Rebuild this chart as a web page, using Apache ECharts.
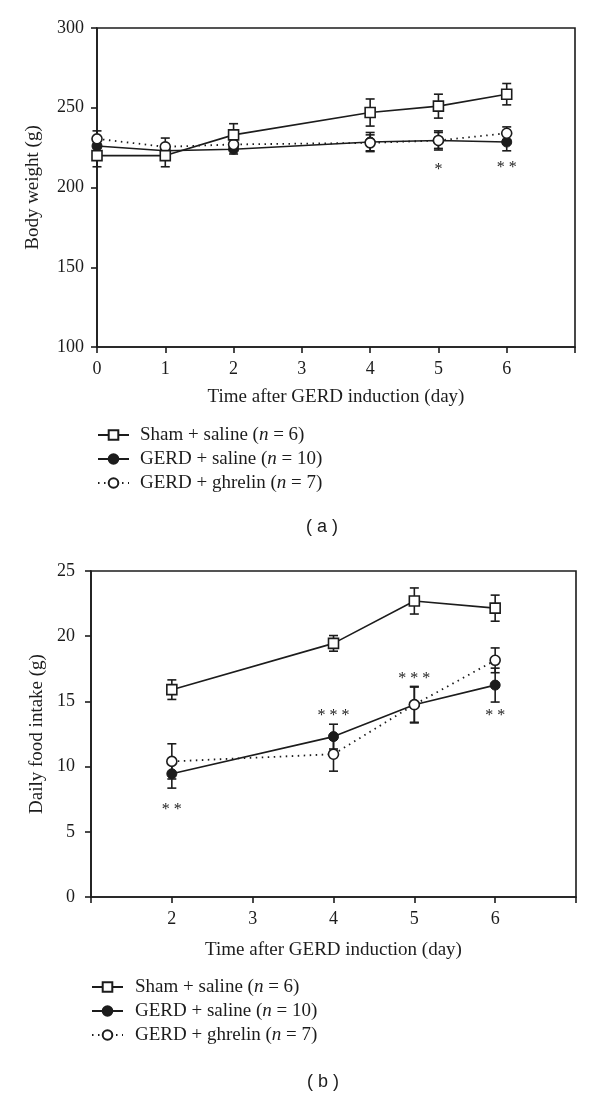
<!DOCTYPE html>
<html><head><meta charset="utf-8">
<script src="https://cdn.jsdelivr.net/npm/echarts@6/dist/echarts.min.js"></script>
<style>html,body{margin:0;padding:0;background:#fff}#c{width:600px;height:1096px}</style>
</head><body><div id="c"></div>
<script>
// ---- data ----
const seriesNames = ['Sham + saline (n = 6)', 'GERD + saline (n = 10)', 'GERD + ghrelin (n = 7)'];

// (a) body weight
const daysA = [0, 1, 2, 4, 5, 6];
const shamA = [220, 220, 233, 247, 251, 258.5];
const shamAErr = [7, 7, 7, 8.5, 7.5, 6.7];
const gerdSalA = [226, 223, 224, 228.5, 229.5, 228.5];
const gerdSalAErr = [5, 4, 3, 6, 6, 5.5];
const gerdGhrA = [230.5, 225.5, 227, 228, 229.5, 234];
const gerdGhrAErr = [5, 5.5, 3, 5, 5, 4];
const annotA = [[5, 213, '*'], [6, 214.5, '* *']];

// (b) daily food intake
const daysB = [2, 4, 5, 6];
const shamB = [15.9, 19.45, 22.7, 22.15];
const shamBErr = [0.75, 0.6, 1.0, 1.0];
const gerdSalB = [9.45, 12.3, 14.75, 16.25];
const gerdSalBErr = [1.1, 0.95, 1.35, 1.3];
const gerdGhrB = [10.4, 10.95, 14.75, 18.15];
const gerdGhrBErr = [1.35, 1.3, 1.4, 0.95];
const annotB = [[2, 6.9, '* *'], [4, 14.15, '* * *'], [5, 17.0, '* * *'], [6, 14.1, '* *']];

const xLabelsA = ['0', '1', '2', '3', '4', '5', '6'];
const xLabelsB = ['2', '3', '4', '5', '6'];

// ---- styling helpers ----
const INK = '#1c1c1c';
const SERIF = 'Liberation Serif';

function pairs(days, vals) { return days.map((d, i) => [d, vals[i]]); }
function errData(days, vals, err) { return days.map((d, i) => [d, vals[i] - err[i], vals[i] + err[i]]); }

function errRender(params, api) {
  const x = api.value(0), lo = api.value(1), hi = api.value(2);
  const pLo = api.coord([x, lo]), pHi = api.coord([x, hi]);
  const cw = 4.5;
  const style = { stroke: INK, lineWidth: 1.6, fill: null };
  return { type: 'group', children: [
    { type: 'line', shape: { x1: pLo[0], y1: pLo[1], x2: pHi[0], y2: pHi[1] }, style },
    { type: 'line', shape: { x1: pLo[0] - cw, y1: pLo[1], x2: pLo[0] + cw, y2: pLo[1] }, style },
    { type: 'line', shape: { x1: pHi[0] - cw, y1: pHi[1], x2: pHi[0] + cw, y2: pHi[1] }, style }
  ] };
}
const annotData = {};
function annotRender(params, api) {
  const p = api.coord([api.value(0), api.value(1)]);
  return { type: 'text', x: p[0], y: p[1] + 3, style: {
    text: annotData[params.seriesIndex][params.dataIndex][2],
    font: '16px "' + SERIF + '"', fill: INK, textAlign: 'center', textVerticalAlign: 'middle' } };
}

function errSeries(gi, days, vals, err) {
  return { type: 'custom', xAxisIndex: gi, yAxisIndex: gi, renderItem: errRender,
    data: errData(days, vals, err), z: 1, silent: true };
}
function lineSeries(gi, idx, days, vals) {
  const base = { name: seriesNames[idx], type: 'line', xAxisIndex: gi, yAxisIndex: gi,
    data: pairs(days, vals), symbolSize: 10, z: 3 + (idx === 0 ? 1 : 0), silent: true,
    lineStyle: { color: INK, width: 1.6 } };
  if (idx === 0) {
    base.symbol = 'rect';
    base.itemStyle = { color: '#fff', borderColor: INK, borderWidth: 1.6 };
  } else if (idx === 1) {
    base.symbol = 'circle';
    base.itemStyle = { color: INK, borderColor: INK, borderWidth: 1 };
  } else {
    base.symbol = 'circle';
    base.itemStyle = { color: '#fff', borderColor: INK, borderWidth: 1.6 };
    base.lineStyle = { color: INK, width: 1.8, type: [1.5, 4.5] };
  }
  return base;
}

function xAxis(gi, min, labels, gap) {
  return { type: 'value', gridIndex: gi, min: min, max: 7, interval: 1,
    name: 'Time after GERD induction (day)', nameLocation: 'middle', nameGap: gap,
    nameTextStyle: { fontFamily: SERIF, fontSize: 19, color: INK },
    axisLine: { show: true, onZero: false, lineStyle: { color: INK, width: 1.6 } },
    axisTick: { show: true, inside: false, length: 6, lineStyle: { color: INK, width: 1.6 } },
    axisLabel: { margin: 13, fontFamily: SERIF, fontSize: 18, color: INK,
      formatter: v => labels.indexOf(String(v)) >= 0 ? String(v) : '' },
    splitLine: { show: false } };
}
function yAxis(gi, min, max, interval, name, gap, margin) {
  return { type: 'value', gridIndex: gi, min: min, max: max, interval: interval,
    name: name, nameLocation: 'middle', nameGap: gap,
    nameTextStyle: { fontFamily: SERIF, fontSize: 19, color: INK },
    axisLine: { show: true, lineStyle: { color: INK, width: 1.6 } },
    axisTick: { show: true, inside: false, length: 6, lineStyle: { color: INK, width: 1.6 } },
    axisLabel: { margin: margin, fontFamily: SERIF, fontSize: 18, color: INK },
    splitLine: { show: false } };
}
function legend(left, top, pad) {
  return { data: seriesNames, orient: 'vertical', left: left, top: top, padding: 0,
    itemWidth: 31, itemHeight: 12, itemGap: 4, selectedMode: false,
    formatter: name => {
      const m = name.match(/^(.*\()n( = .*)$/);
      return '{t|' + m[1] + '}{i|n}{t|' + m[2] + '}';
    },
    textStyle: { fontFamily: SERIF, fontSize: 19, color: INK, lineHeight: 20, padding: [0, 0, 0, pad],
      rich: { t: { fontFamily: SERIF, fontSize: 19, color: INK, lineHeight: 20 },
              i: { fontFamily: SERIF, fontSize: 19, color: INK, fontStyle: 'italic', lineHeight: 20 } } } };
}

const series = [
  errSeries(0, daysA, shamA, shamAErr),
  errSeries(0, daysA, gerdSalA, gerdSalAErr),
  errSeries(0, daysA, gerdGhrA, gerdGhrAErr),
  lineSeries(0, 1, daysA, gerdSalA),
  lineSeries(0, 2, daysA, gerdGhrA),
  lineSeries(0, 0, daysA, shamA),
  errSeries(1, daysB, shamB, shamBErr),
  errSeries(1, daysB, gerdSalB, gerdSalBErr),
  errSeries(1, daysB, gerdGhrB, gerdGhrBErr),
  lineSeries(1, 1, daysB, gerdSalB),
  lineSeries(1, 2, daysB, gerdGhrB),
  lineSeries(1, 0, daysB, shamB)
];
annotData[series.length] = annotA;
series.push({ type: 'custom', xAxisIndex: 0, yAxisIndex: 0, renderItem: annotRender,
  data: annotA.map(a => [a[0], a[1]]), silent: true, z: 5 });
annotData[series.length] = annotB;
series.push({ type: 'custom', xAxisIndex: 1, yAxisIndex: 1, renderItem: annotRender,
  data: annotB.map(a => [a[0], a[1]]), silent: true, z: 5 });

const option = {
  animation: false,
  backgroundColor: '#fff',
  grid: [
    { left: 97, top: 28, width: 478, height: 319, show: true, borderColor: INK, borderWidth: 1.6, backgroundColor: 'transparent' },
    { left: 91, top: 571, width: 485, height: 326, show: true, borderColor: INK, borderWidth: 1.6, backgroundColor: 'transparent' }
  ],
  xAxis: [ xAxis(0, 0, xLabelsA, 41), xAxis(1, 1, xLabelsB, 44) ],
  yAxis: [ yAxis(0, 100, 300, 50, 'Body weight (g)', 54, 13), yAxis(1, 0, 25, 5, 'Daily food intake (g)', 44, 16) ],
  legend: [ legend(97, 425, 6), legend(91, 977, 7) ],
  graphic: [
    { type: 'text', x: 322, y: 527, style: { text: '( a )', font: '18px "Liberation Sans"', fill: INK, textAlign: 'center', textVerticalAlign: 'middle' } },
    { type: 'text', x: 323, y: 1082, style: { text: '( b )', font: '18px "Liberation Sans"', fill: INK, textAlign: 'center', textVerticalAlign: 'middle' } }
  ],
  series: series
};
const chart = echarts.init(document.getElementById('c'), null, { renderer: 'canvas' });
chart.setOption(option);
</script>
</body></html>
